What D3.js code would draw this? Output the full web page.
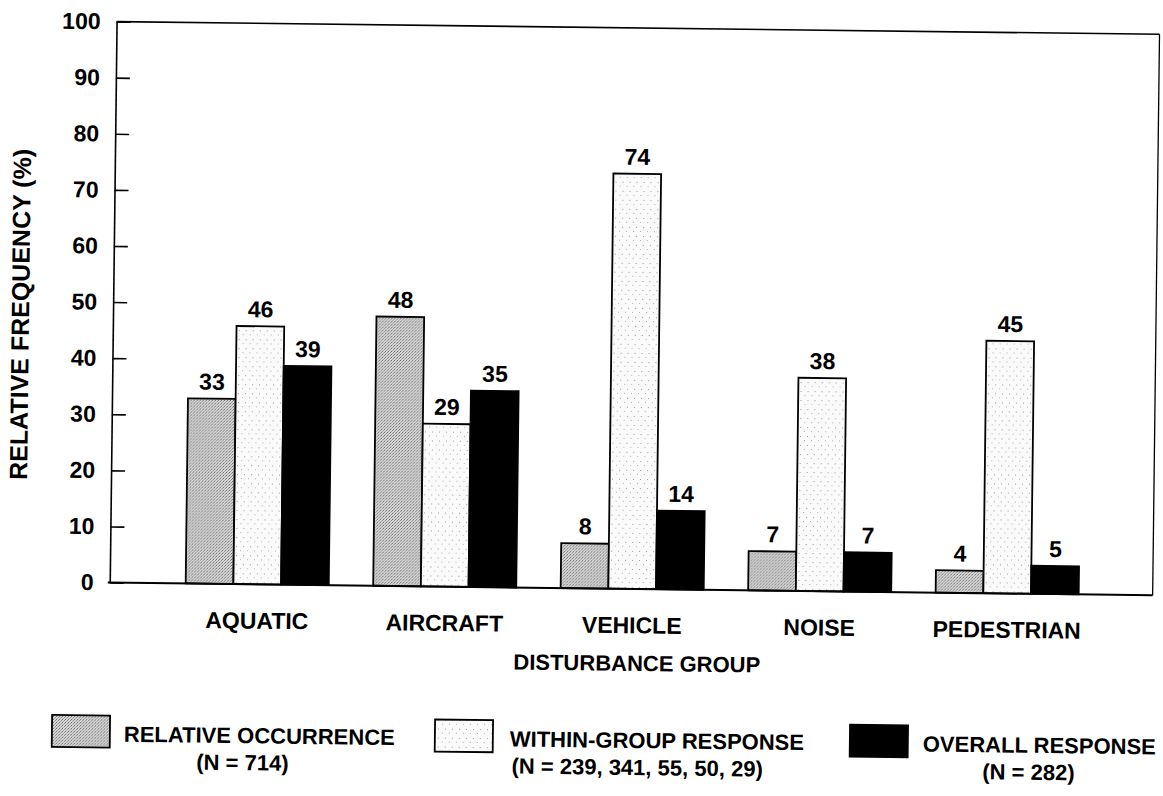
<!DOCTYPE html>
<html>
<head>
<meta charset="utf-8">
<script src="https://cdn.jsdelivr.net/npm/d3@7"></script>
<style>
  html, body { margin: 0; padding: 0; background: #ffffff; }
  svg { display: block; }
  text { font-family: "Liberation Sans", Arial, Helvetica, sans-serif; font-weight: bold; fill: #000; }
</style>
</head>
<body>
<svg id="chart" width="1163" height="796"></svg>
<script>
// ---- data ----
const categories = ["AQUATIC", "AIRCRAFT", "VEHICLE", "NOISE", "PEDESTRIAN"];
const relativeOccurrence = [33, 48, 8, 7, 4];
const withinGroupResponse = [46, 29, 74, 38, 45];
const overallResponse = [39, 35, 14, 7, 5];
const seriesNames = ["RELATIVE OCCURRENCE", "WITHIN-GROUP RESPONSE", "OVERALL RESPONSE"];
const seriesN = ["(N = 714)", "(N = 239, 341, 55, 50, 29)", "(N = 282)"];
const yTicks = [0, 10, 20, 30, 40, 50, 60, 70, 80, 90, 100];
const xTitle = "DISTURBANCE GROUP";
const yTitle = "RELATIVE FREQUENCY (%)";

const seriesKeys = ["rel", "within", "overall"];
const seriesValues = [relativeOccurrence, withinGroupResponse, overallResponse];
const rows = categories.map((c, i) => ({
  cat: c,
  vals: seriesKeys.map((k, j) => ({ key: k, value: seriesValues[j][i] }))
}));

// ---- layout ----
const svg = d3.select("#chart");
const plotL = 112, plotR = 1155, plotT = 28, plotB = 589;

const defs = svg.append("defs");
const pRel = defs.append("pattern").attr("id", "patRel").attr("patternUnits", "userSpaceOnUse")
  .attr("width", 3).attr("height", 3);
pRel.append("rect").attr("width", 3).attr("height", 3).attr("fill", "#d8d8d8");
pRel.append("rect").attr("x", 0).attr("y", 0).attr("width", 1).attr("height", 1).attr("fill", "#6a6a6a");
pRel.append("rect").attr("x", 2).attr("y", 1).attr("width", 1).attr("height", 1).attr("fill", "#8a8a8a");
pRel.append("rect").attr("x", 1).attr("y", 2).attr("width", 1).attr("height", 1).attr("fill", "#a0a0a0");

const pWit = defs.append("pattern").attr("id", "patWithin").attr("patternUnits", "userSpaceOnUse")
  .attr("width", 7).attr("height", 9);
pWit.append("rect").attr("width", 7).attr("height", 9).attr("fill", "#fafafa");
pWit.append("rect").attr("x", 1).attr("y", 2).attr("width", 1).attr("height", 1).attr("fill", "#9a9a9a");
pWit.append("rect").attr("x", 5).attr("y", 6).attr("width", 1).attr("height", 1).attr("fill", "#b0b0b0");

const fills = { rel: "url(#patRel)", within: "url(#patWithin)", overall: "#000000" };

const g = svg.append("g").attr("transform", "rotate(0.7, 640, 400)");

const y = d3.scaleLinear().domain([0, 100]).range([plotB, plotT]);
const x0 = d3.scaleBand().domain(categories).range([165.75, 1103.25])
  .paddingInner(0.237).paddingOuter(0.1185);
const x1 = d3.scaleBand().domain(seriesKeys).range([0, x0.bandwidth()]).padding(0);

// frame
g.append("line").attr("x1", plotL).attr("x2", plotR).attr("y1", plotT).attr("y2", plotT)
  .attr("stroke", "#000").attr("stroke-width", 1.6);
g.append("line").attr("x1", plotR).attr("x2", plotR).attr("y1", plotT).attr("y2", plotB)
  .attr("stroke", "#000").attr("stroke-width", 1.3);

// y axis
const yAxis = d3.axisLeft(y).tickValues(yTicks).tickSizeInner(-14).tickSizeOuter(0).tickPadding(16);
const ya = g.append("g").attr("transform", `translate(${plotL},0)`).call(yAxis);
ya.select(".domain").attr("stroke", "#000").attr("stroke-width", 1.6);
ya.selectAll(".tick line").attr("stroke", "#000").attr("stroke-width", 1.6);
ya.selectAll(".tick text").attr("font-size", 23).attr("font-family", "Liberation Sans, Arial, sans-serif")
  .attr("font-weight", "bold").attr("fill", "#000");

// bars
const groups = g.append("g").selectAll("g.grp").data(rows).join("g")
  .attr("class", "grp").attr("transform", d => `translate(${x0(d.cat)},0)`);

groups.selectAll("rect").data(d => d.vals).join("rect")
  .attr("x", d => x1(d.key))
  .attr("y", d => y(d.value))
  .attr("width", x1.bandwidth())
  .attr("height", d => y(0) - y(d.value))
  .attr("fill", d => fills[d.key])
  .attr("stroke", "#000").attr("stroke-width", 1.8);

groups.selectAll("text.val").data(d => d.vals).join("text")
  .attr("class", "val")
  .attr("x", d => x1(d.key) + x1.bandwidth() / 2)
  .attr("y", d => y(d.value) - 9)
  .attr("text-anchor", "middle")
  .attr("font-size", 23)
  .text(d => d.value);

// baseline
g.append("line").attr("x1", plotL - 2).attr("x2", plotR).attr("y1", y(0)).attr("y2", y(0))
  .attr("stroke", "#000").attr("stroke-width", 2);

// x category labels
const xAxis = d3.axisBottom(x0).tickSize(0).tickPadding(28);
const xa = g.append("g").attr("transform", `translate(0,${plotB})`).call(xAxis);
xa.select(".domain").remove();
xa.selectAll(".tick text").attr("font-size", 23).attr("font-family", "Liberation Sans, Arial, sans-serif")
  .attr("font-weight", "bold").attr("fill", "#000");

// axis titles
g.append("text").attr("x", 640).attr("y", 671).attr("text-anchor", "middle")
  .attr("font-size", 22).text(xTitle);
g.append("text").attr("transform", "translate(28,322) rotate(-90)").attr("text-anchor", "middle")
  .attr("font-size", 25).text(yTitle);

// legend
const legendSw = [56, 439, 854];
const legendTx = [128, 514, 927];
const legendN = [{ x: 247, a: "middle" }, { x: 516, a: "start" }, { x: 1033, a: "middle" }];
const leg = g.append("g").selectAll("g").data(seriesKeys).join("g");
leg.append("rect")
  .attr("x", (d, i) => legendSw[i]).attr("y", 722).attr("width", 58).attr("height", 32)
  .attr("fill", d => fills[d]).attr("stroke", "#000").attr("stroke-width", 1.8);
leg.append("text")
  .attr("x", (d, i) => legendTx[i]).attr("y", 748).attr("font-size", 22)
  .text((d, i) => seriesNames[i]);
leg.append("text")
  .attr("x", (d, i) => legendN[i].x).attr("y", 775).attr("font-size", 22)
  .attr("text-anchor", (d, i) => legendN[i].a)
  .text((d, i) => seriesN[i]);
</script>
</body>
</html>
